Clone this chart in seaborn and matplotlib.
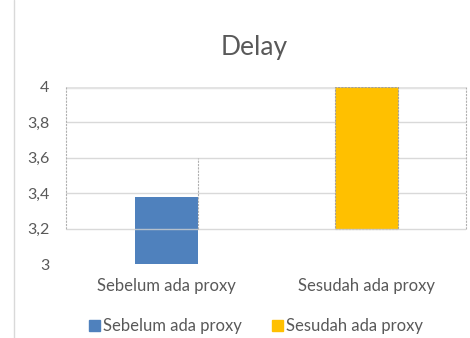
import matplotlib
matplotlib.use("Agg")
import matplotlib.pyplot as plt
import matplotlib.lines as mlines
import matplotlib.patches as mpatches
import seaborn as sns

categories = ["Sebelum ada proxy", "Sesudah ada proxy"]
values = [3.38, 4.0]
bases = [3.0, 3.2]
y_ticks = [3.0, 3.2, 3.4, 3.6, 3.8, 4.0]
y_tick_labels = ["3", "3,2", "3,4", "3,6", "3,8", "4"]
colors = ["#4F81BD", "#FFC000"]

sns.set_style("white")
plt.rcParams["font.family"] = ["Lato", "DejaVu Sans"]
text_color = "#595959"

fig = plt.figure(figsize=(4.7, 3.38), dpi=100)
ax = fig.add_axes([66 / 470, 1 - 264 / 338, 400 / 470, 177 / 338])

heights = [v - b for v, b in zip(values, bases)]
sns.barplot(x=categories, y=heights, bottom=bases, width=0.315, ax=ax,
            color=colors[0], edgecolor="none", linewidth=0)
for patch, c in zip(ax.patches, colors):
    patch.set_facecolor(c)
ax.patches[1].set_edgecolor("#A0A0A0")
ax.patches[1].set_linestyle((0, (2, 1)))
ax.patches[1].set_linewidth(0.8)

ax.set_ylim(3.0, 4.0)
ax.set_xlim(-0.5, 1.5)
ax.set_yticks(y_ticks)
ax.set_yticklabels(y_tick_labels)
for s in ax.spines.values():
    s.set_visible(False)

# gridlines only across the plot area (3,2 .. 4)
for y in y_ticks[2:]:
    ax.axhline(y, color="#D9D9D9", lw=1, zorder=0)
ax.axhline(3.2, color="#D0D0D0", lw=1, alpha=0.8, zorder=3)
ax.axhline(4.0, color="#E3E3E3", lw=2.5, zorder=0)
for x in [-0.5, 1.5]:
    ax.plot([x, x], [3.2, 4.0], color="#B0B0B0", lw=0.8, ls=(0, (2, 1)),
            zorder=0, clip_on=False)
ax.plot([0.16, 0.16], [3.2, 3.6], color="#B0B0B0", lw=0.8, ls=(0, (2, 1)),
        zorder=3)

ax.tick_params(axis="y", length=0, pad=12, labelsize=11.5, labelcolor=text_color)
ax.tick_params(axis="x", length=0, pad=10, labelsize=12, labelcolor=text_color)
ax.set_xlabel("")
ax.set_ylabel("")

fig.text(254 / 470, 1 - 47 / 338, "Delay", ha="center", va="center",
         fontsize=19, color=text_color)

handles = [mpatches.Patch(color=c, label=l) for c, l in zip(colors, categories)]
fig.legend(handles=handles, loc="center", bbox_to_anchor=(256 / 470, 1 - 326 / 338),
           ncol=2, frameon=False, fontsize=12, labelcolor=text_color,
           handlelength=0.65, handleheight=0.65, handletextpad=0.2, columnspacing=1.8)

fig.add_artist(mlines.Line2D([14 / 470, 14 / 470], [0, 1], color="#D9D9D9", lw=1))

fig.savefig("out.png", dpi=100)
